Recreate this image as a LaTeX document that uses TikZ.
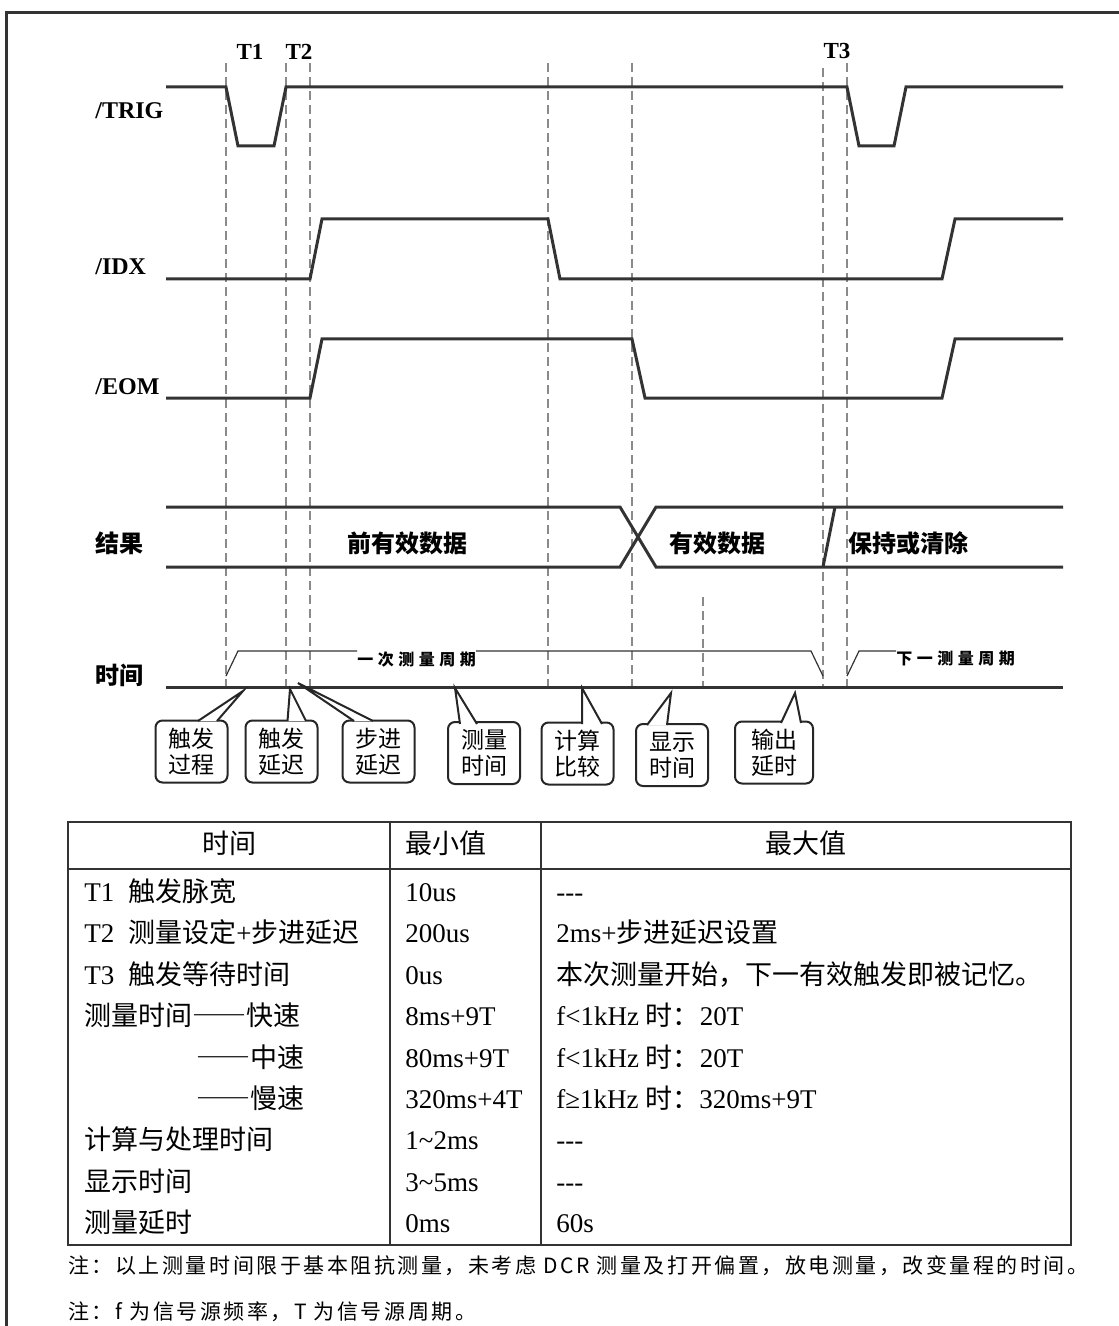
\documentclass[tikz,border=0pt]{standalone}
\usepackage{fontspec}
\setmainfont{Liberation Serif}
\newfontfamily\cjk{Noto Sans CJK SC}
\newfontfamily\cjkwide[LetterSpace=28]{Noto Sans CJK SC}
\newfontfamily\cjknote[LetterSpace=12]{Noto Sans CJK SC}
\definecolor{ink}{HTML}{333333}
\definecolor{guidegray}{HTML}{8A8A8A}

\begin{document}
\begin{tikzpicture}[x=0.5pt,y=-0.5pt,
    sig/.style={ink,line width=1.5pt},
    dashline/.style={guidegray,line width=0.6pt,dash pattern=on 4.5pt off 2.5pt},
    thinline/.style={ink,line width=0.6pt},
    sname/.style={anchor=west,inner sep=0pt,font=\fontsize{12}{14}\selectfont\bfseries},
    zname/.style={anchor=west,inner sep=0pt,font=\cjk\bfseries\fontsize{12}{14}\selectfont},
    tmark/.style={inner sep=0pt,font=\fontsize{11.5}{13}\selectfont\bfseries},
    period/.style={anchor=north west,inner sep=0pt,font=\cjkwide\bfseries\fontsize{8}{9}\selectfont},
    bubble/.style={draw=black!85,line width=1pt,rounded corners=3.5pt,minimum width=36pt,minimum height=31pt,inner sep=0pt,align=center,font=\cjk\fontsize{11.5}{13}\selectfont},
    ptr/.style={draw=black!85,line width=1pt,fill=white,line join=miter},
    tabline/.style={ink,line width=0.7pt},
    cell/.style={anchor=base west,inner sep=0pt,font=\fontsize{13.5}{16}\selectfont},
    note/.style={anchor=base west,inner sep=0pt,font=\cjknote\fontsize{10.5}{12}\selectfont}]

    \useasboundingbox (0,0) rectangle (1118,1326);
    \draw[ink,line width=1.6pt] (1130,12.5) -- (6.5,12.5) -- (6.5,1340);

    \draw[dashline] (226,63) -- (226,687);
    \draw[dashline] (286,63) -- (286,687);
    \draw[dashline] (310,63) -- (310,687);
    \draw[dashline] (548,63) -- (548,687);
    \draw[dashline] (632,63) -- (632,687);
    \draw[dashline] (823,68) -- (823,687);
    \draw[dashline] (847,63) -- (847,687);
    \draw[dashline] (703,597) -- (703,687);

    \node[tmark] (t1) at (250,52) {T1};
    \node[tmark] (t2) at (299,52) {T2};
    \node[tmark] (t3) at (837,51) {T3};

    \node[sname] (trig) at (95,111) {/TRIG};
    \node[sname] (idx) at (95,267) {/IDX};
    \node[sname] (eom) at (95,387) {/EOM};
    \node[zname] (res) at (95,543) {结果};
    \node[zname] (tim) at (95,675) {时间};

    \draw[sig] (166,87) -- (226,87) -- (238,146) -- (274,146) -- (286,87) -- (847,87) -- (859,146) -- (894,146) -- (906,87) -- (1063,87);
    \draw[sig] (166,279) -- (310,279) -- (322,219) -- (548,219) -- (560,279) -- (942,279) -- (955,219) -- (1063,219);
    \draw[sig] (166,398) -- (310,398) -- (322,339) -- (632,339) -- (645,398) -- (942,398) -- (955,339) -- (1063,339);
    \draw[sig] (166,507) -- (620,507) -- (656,567) -- (1063,567);
    \draw[sig] (166,567) -- (620,567) -- (656,507) -- (1063,507);
    \draw[sig] (823,567) -- (835,507);
    \draw[sig] (166,687) -- (1063,687);

    \node[zname,anchor=center] (old) at (407,543) {前有效数据};
    \node[zname,anchor=center] (new) at (717,543) {有效数据};
    \node[zname,anchor=center] (keep) at (908,543) {保持或清除};

    \node[period] (cyc) at (357,651) {一次测量周期};
    \draw[thinline] (226,676) -- (238,651) -- (cyc.north west);
    \draw[thinline] (cyc.north east) -- (811,651) -- (823,676);
    \node[period] (nxt) at (896,651) {下一测量周期};
    \draw[thinline] (847,676) -- (859,651) -- (nxt.north west);

    \node[bubble] (b1) at (191.5,751.5) {触发\\过程};
    \node[bubble] (b2) at (281.5,751.5) {触发\\延迟};
    \node[bubble] (b3) at (378.5,751.5) {步进\\延迟};
    \node[bubble] (b4) at (484,753) {测量\\时间};
    \node[bubble] (b5) at (577.5,753.5) {计算\\比较};
    \node[bubble] (b6) at (672,755) {显示\\时间};
    \node[bubble,minimum width=39pt] (b7) at (774,752.5) {输出\\延时};
    \coordinate (p1) at (243,691);
    \coordinate (p2) at (290,689);
    \coordinate (p3) at (298,683);
    \coordinate (p4) at (455,688);
    \coordinate (p5) at (582,688);
    \coordinate (p6) at (671,693);
    \coordinate (p7) at (795,693);
    \draw[ptr] (198,721) -- (p1) -- (217,721);
    \draw[ptr] (287.5,721) -- (p2) -- (306,721);
    \draw[ptr] (354,721) -- (p3) -- (373,721);
    \draw[ptr] (460,724) -- (p4) -- (477,724);
    \draw[ptr] (582,724) -- (p5) -- (602,724);
    \draw[ptr] (647,725) -- (p6) -- (667,725);
    \draw[ptr] (781,723) -- (p7) -- (801,723);

    \draw[tabline] (68,822) rectangle (1071,1245);
    \draw[tabline] (68,869) -- (1071,869);
    \draw[tabline] (390,822) -- (390,1245);
    \draw[tabline] (541,822) -- (541,1245);
    \node[cell,anchor=center] (h1) at (229,843) {\cjk 时间};
    \node[cell,anchor=west] (h2) at (405,843) {\cjk 最小值};
    \node[cell,anchor=center] (h3) at (806,843) {\cjk 最大值};

    \node[cell] at (84,901) {T1\hspace{7pt}{\cjk 触发脉宽}};
    \node[cell] at (405,901) {10us};
    \node[cell] at (556,901) {-{}-{}-};
    \node[cell] at (84,942) {T2\hspace{7pt}{\cjk 测量设定}+{\cjk 步进延迟}};
    \node[cell] at (405,942) {200us};
    \node[cell] at (556,942) {2ms+{\cjk 步进延迟设置}};
    \node[cell] at (84,984) {T3\hspace{7pt}{\cjk 触发等待时间}};
    \node[cell] at (405,984) {0us};
    \node[cell] at (556,984) {\cjk 本次测量开始，下一有效触发即被记忆。};
    \node[cell] at (84,1025) {\cjk 测量时间――快速};
    \node[cell] at (405,1025) {8ms+9T};
    \node[cell] at (556,1025) {f<1kHz {\cjk 时：}20T};
    \node[cell] at (196,1067) {\cjk ――中速};
    \node[cell] at (405,1067) {80ms+9T};
    \node[cell] at (556,1067) {f<1kHz {\cjk 时：}20T};
    \node[cell] at (196,1108) {\cjk ――慢速};
    \node[cell] at (405,1108) {320ms+4T};
    \node[cell] at (556,1108) {f≥1kHz {\cjk 时：}320ms+9T};
    \node[cell] at (84,1149) {\cjk 计算与处理时间};
    \node[cell] at (405,1149) {1\char`\~2ms};
    \node[cell] at (556,1149) {-{}-{}-};
    \node[cell] at (84,1191) {\cjk 显示时间};
    \node[cell] at (405,1191) {3\char`\~5ms};
    \node[cell] at (556,1191) {-{}-{}-};
    \node[cell] at (84,1232) {\cjk 测量延时};
    \node[cell] at (405,1232) {0ms};
    \node[cell] at (556,1232) {60s};

    \node[note] (n1) at (68,1273) {注：以上测量时间限于基本阻抗测量，未考虑 DCR 测量及打开偏置，放电测量，改变量程的时间。};
    \node[note] (n2) at (68,1319) {注：f 为信号源频率，T 为信号源周期。};
\end{tikzpicture}
\end{document}
